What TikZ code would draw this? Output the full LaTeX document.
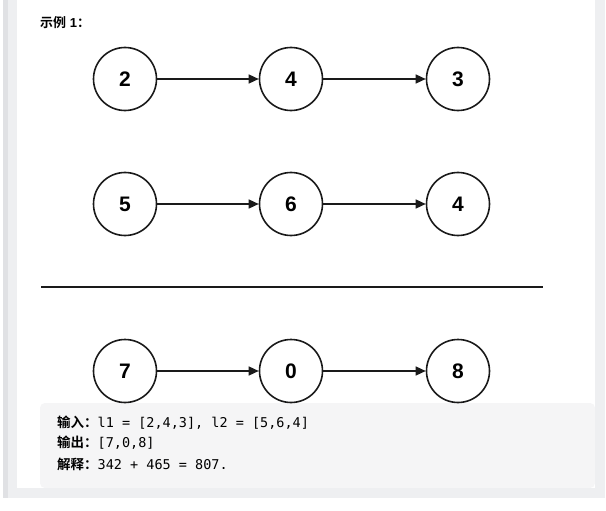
\documentclass[tikz,border=0pt]{standalone}
\usepackage{fontspec}
\setmainfont{Liberation Sans}
\newfontfamily\cjk{Noto Sans CJK SC}
\newfontfamily\cjkb{Noto Sans CJK SC Bold}
\newfontfamily\mono{DejaVu Sans Mono}
\usetikzlibrary{arrows.meta}
\definecolor{frame}{HTML}{EEEFF1}
\definecolor{framedark}{HTML}{E0E1E4}
\definecolor{codebg}{HTML}{F5F5F6}
\definecolor{ink}{HTML}{1A1A1A}
\begin{document}
\begin{tikzpicture}[x=1pt,y=-1pt,
  listnode/.style={circle,draw=ink,line width=1.6pt,minimum size=63pt,inner sep=0pt,font=\fontsize{21}{21}\selectfont\bfseries},
  link/.style={draw=ink,line width=1.4pt,-{Triangle[length=10pt,width=9pt]}},
  codeline/.style={anchor=west,inner sep=0pt,font=\fontsize{13.5}{14}\selectfont}]
\useasboundingbox (0,0) rectangle (606,511);
\fill[white] (0,0) rectangle (606,511);
\fill[frame] (3,0) rectangle (605,498);
\fill[framedark] (3,0) rectangle (8,498);
\fill[white] (17,0) rectangle (595,488);
\fill[codebg, rounded corners=5pt] (40,403) rectangle (595,488);
\node[anchor=west,inner sep=0pt,font=\fontsize{13}{13}\selectfont] (title) at (40,23) {{\cjkb 示例} \textbf{1}{\cjkb ：}};
% row 1
\node[listnode] (a1) at (125,79) {2};
\node[listnode] (a2) at (291,79) {4};
\node[listnode] (a3) at (458,79) {3};
% row 2
\node[listnode] (b1) at (125,204) {5};
\node[listnode] (b2) at (291,204) {6};
\node[listnode] (b3) at (458,204) {4};
% separator
\coordinate (s1) at (41,287);
\coordinate (s2) at (543,287);
\draw[ink,line width=2pt] (s1) -- (s2);
% row 3
\node[listnode] (c1) at (125,371) {7};
\node[listnode] (c2) at (291,371) {0};
\node[listnode] (c3) at (458,371) {8};
\foreach \r in {a,b,c}{
  \draw[link] (\r1) -- (\r2);
  \draw[link] (\r2) -- (\r3);
}
\node[codeline] (l1) at (57,423) {{\cjkb 输入：}\mono l1 = [2,4,3], l2 = [5,6,4]};
\node[codeline] (l2) at (57,443) {{\cjkb 输出：}\mono [7,0,8]};
\node[codeline] (l3) at (57,464) {{\cjkb 解释：}\mono 342 + 465 = 807.};
\end{tikzpicture}
\end{document}
